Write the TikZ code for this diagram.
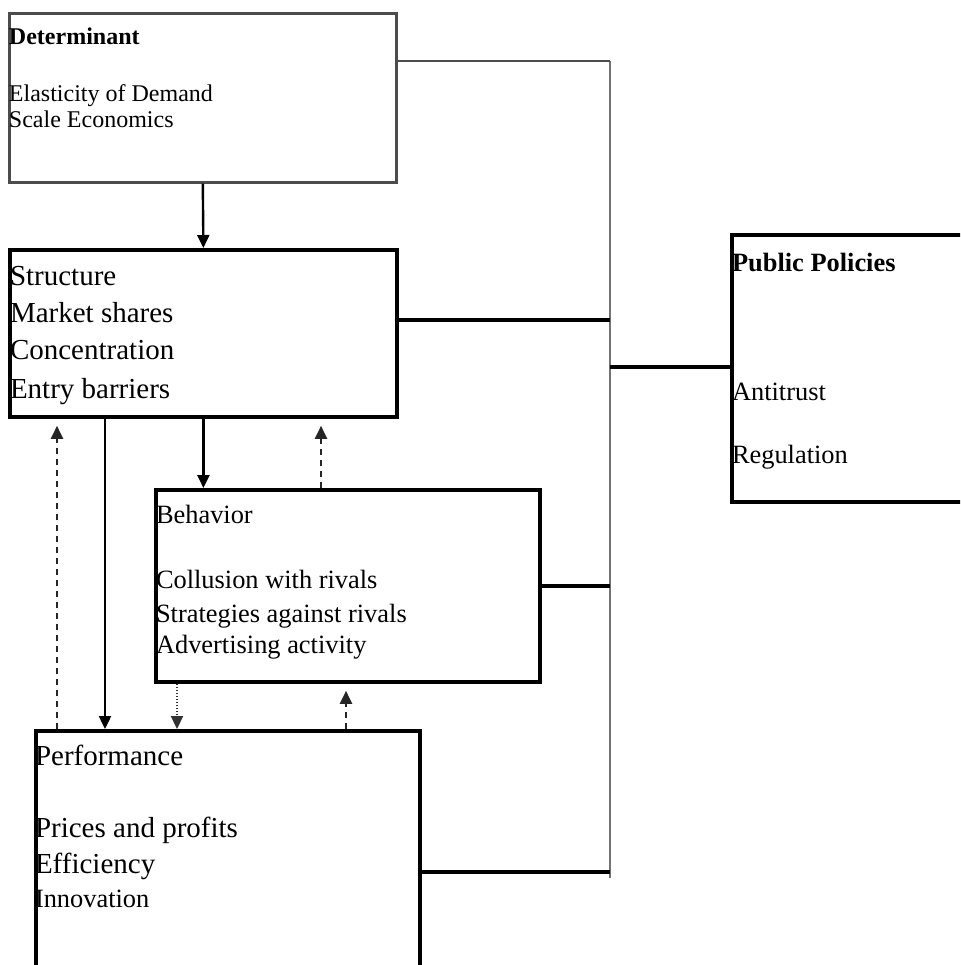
\documentclass[tikz,border=0pt]{standalone}
\usepackage{fontspec}
\setmainfont{Liberation Serif}
\usetikzlibrary{arrows.meta}

% font sizes for the box texts
\newcommand\szsmall{\fontsize{24}{28}\selectfont}
\newcommand\szmid{\fontsize{26.4}{30}\selectfont}
\newcommand\szbig{\fontsize{29}{34}\selectfont}

\tikzset{
  box/.style={draw=black, line width=3.8pt, rectangle, anchor=north west, inner sep=0pt},
  softbox/.style={draw=black!70, line width=2.6pt, rectangle, anchor=north west, inner sep=0pt},
  txt/.style={anchor=base west, inner sep=0pt, outer sep=0pt},
  link/.style={draw=black, line width=3.6pt},
  bus/.style={draw=black!55, line width=2.4pt},
  tip/.style={-{Triangle[length=13pt,width=12pt]}},
  arr/.style={draw=black, line width=2.4pt, tip},
  darr/.style={draw=black!85, line width=2.4pt, dash pattern=on 6pt off 5pt,
               tip, shorten >=7pt},
  dotarr/.style={draw=black!80, line width=2.2pt, dash pattern=on 1.5pt off 1.5pt, tip},
}

\begin{document}
\begin{tikzpicture}[x=1pt, y=-1pt]
\useasboundingbox (0,0) rectangle (960,965);
\clip (0,0) rectangle (960,965);
\fill[white] (0,0) rectangle (960,965);

% boxes
\node[softbox, minimum width=387pt, minimum height=169pt] (det) at (8,12) {};
\node[box, minimum width=387pt, minimum height=167pt] (str) at (8,248) {};
\node[box, minimum width=384pt, minimum height=192pt] (beh) at (154,488) {};
\node[box, minimum width=384pt, minimum height=300pt] (perf) at (34,729) {};
\node[box, minimum width=280pt, minimum height=267pt] (pp) at (730,233) {};

% texts
\node[txt] (d1) at (9,45) {\szsmall\bfseries Determinant};
\node[txt] (d2) at (9,102) {\szsmall Elasticity of Demand};
\node[txt] (d3) at (9,128) {\szsmall Scale Economics};

\node[txt] (s1) at (10,285) {\szbig Structure};
\node[txt] (s2) at (10,322) {\szbig Market shares};
\node[txt] (s3) at (10,359) {\szbig Concentration};
\node[txt] (s4) at (10,398) {\szbig Entry barriers};

\node[txt] (b1) at (156,523) {\szmid Behavior};
\node[txt] (b2) at (156,588) {\szmid Collusion with rivals};
\node[txt] (b3) at (156,622) {\szmid Strategies against rivals};
\node[txt] (b4) at (156,653) {\szmid Advertising activity};

\node[txt] (p1) at (35,765) {\szbig Performance};
\node[txt] (p2) at (35,837) {\szbig Prices and profits};
\node[txt] (p3) at (35,873) {\szbig Efficiency};
\node[txt] (p4) at (35,907) {\szmid Innovation};

\node[txt] (q1) at (732,272) {\szmid\bfseries Public Policies};
\node[txt] (q2) at (732,400) {\szmid Antitrust};
\node[txt] (q3) at (732,463) {\szmid Regulation};

% policy bus on the right
\coordinate (bustop) at (610,61);
\coordinate (busbot) at (610,878);
\coordinate (jstr) at (610,320);
\coordinate (jpp) at (610,367);
\coordinate (jperf) at (610,872);

\draw[bus] (bustop) -- (busbot);
\draw[draw=black!70, line width=2.6pt] (bustop -| det.east) -- (bustop);
\draw[link] (jstr -| str.east) -- (jstr);
\draw[link] (jpp) -- (jpp -| pp.west);
\draw[link] (beh.east) -- (beh.east -| bustop);
\draw[link] (jperf -| perf.east) -- (jperf);

% arrow columns
\coordinate (cA) at (57,0);
\coordinate (cB) at (105,0);
\coordinate (cC) at (177,0);
\coordinate (cD) at (321,0);
\coordinate (cE) at (346,0);

\draw[arr] (det.south) -- (str.north);
\draw[arr] (str.south -| cB) -- (perf.north -| cB);
\draw[arr] (str.south) -- (beh.north -| str.south);
\draw[darr] (perf.north -| cA) -- (str.south -| cA);
\draw[darr] (beh.north -| cD) -- (str.south -| cD);
\draw[dotarr] (beh.south -| cC) -- (perf.north -| cC);
\draw[darr] (perf.north -| cE) -- (beh.south -| cE);
\end{tikzpicture}
\end{document}
